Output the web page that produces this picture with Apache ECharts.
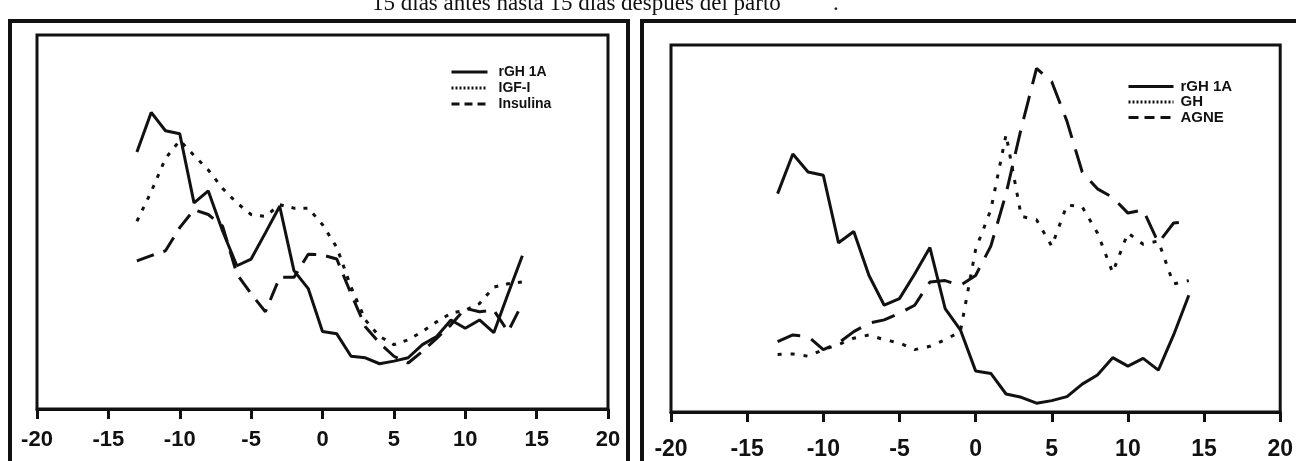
<!DOCTYPE html>
<html>
<head>
<meta charset="utf-8">
<script src="https://cdn.jsdelivr.net/npm/echarts@6/dist/echarts.min.js"></script>
<style>
  html, body { margin: 0; padding: 0; background: #fff; }
  #chart { width: 1296px; height: 461px; }
</style>
</head>
<body>
<div id="chart"></div>
<script>
// days around calving
const days = [-13, -12, -11, -10, -9, -8, -7, -6, -5, -4, -3, -2, -1, 0, 1, 2, 3, 4, 5, 6, 7, 8, 9, 10, 11, 12, 13, 14];
const xTicks = [-20, -15, -10, -5, 0, 5, 10, 15, 20];

// left panel (relative units)
const rghLeft = [68.7, 79.3, 74.4, 73.6, 55.1, 58.3, 47.6, 38.3, 40.1, 47.1, 54.2, 37.0, 32.2, 20.7, 20.1, 14.1, 13.7, 12.1, 12.8, 13.7, 17.2, 19.4, 23.8, 21.6, 23.8, 20.4, 30.8, 41.0];
const igfLeft = [50.2, 58.1, 67.0, 71.8, 67.8, 63.9, 59.0, 55.1, 52.0, 51.5, 54.6, 53.7, 53.7, 49.3, 43.2, 32.6, 23.8, 19.4, 17.2, 18.5, 20.7, 23.3, 25.6, 26.4, 28.2, 32.6, 33.5, 34.0];
const insLeft = [39.6, 41.0, 42.3, 48.5, 53.3, 52.0, 48.9, 36.1, 30.8, 26.0, 35.2, 35.2, 41.4, 41.2, 40.1, 30.8, 22.0, 17.6, 14.1, 12.3, 15.4, 18.9, 22.5, 26.9, 26.0, 26.4, 20.7, 28.2];

// right panel (relative units)
const rghRight = [59.5, 70.3, 65.4, 64.5, 46.1, 49.2, 37.2, 29.1, 30.9, 37.6, 44.8, 28.2, 22.4, 11.2, 10.5, 4.9, 4.0, 2.4, 3.1, 4.2, 7.6, 10.1, 14.8, 12.5, 14.6, 11.4, 21.0, 31.8];
const ghRight = [15.7, 15.8, 15.2, 17.0, 18.4, 20.1, 21.0, 19.7, 18.8, 17.0, 17.9, 19.7, 21.9, 44.3, 55.1, 75.6, 53.3, 52.4, 45.2, 56.4, 55.9, 48.8, 38.0, 48.8, 45.7, 46.6, 34.9, 35.8];
const agneRight = [19.2, 21.0, 20.6, 17.0, 18.8, 21.9, 24.2, 25.1, 26.9, 29.1, 35.4, 35.8, 34.5, 37.2, 45.2, 59.5, 77.4, 93.6, 90.0, 79.2, 65.4, 60.8, 58.5, 54.2, 55.1, 46.1, 51.5, 51.9];

const ink = '#111';
const sans = '"Liberation Sans", Arial, sans-serif';
const serif = '"Liberation Serif", "Times New Roman", serif';
const pairs = vals => days.map((d, i) => [d, vals[i]]);

function makeLine(name, vals, idx, dash) {
    return {
        name: name,
        type: 'line',
        xAxisIndex: idx,
        yAxisIndex: idx,
        data: pairs(vals),
        symbol: 'none',
        silent: true,
        lineStyle: { color: ink, width: 3, type: dash },
        itemStyle: { color: ink }
    };
}

function makeX(idx, margin, size) {
    return {
        type: 'value',
        gridIndex: idx,
        min: xTicks[0],
        max: xTicks[xTicks.length - 1],
        interval: xTicks[1] - xTicks[0],
        splitLine: { show: false },
        axisLine: { show: true, onZero: false, lineStyle: { color: ink, width: 3 } },
        axisTick: { show: true, length: 10, lineStyle: { color: ink, width: 3 } },
        axisLabel: { margin: margin, color: ink, fontFamily: sans, fontWeight: 'bold', fontSize: size }
    };
}

function makeY(idx) {
    return {
        type: 'value', gridIndex: idx, min: 0, max: 100,
        axisLine: { show: false }, axisTick: { show: false },
        axisLabel: { show: false }, splitLine: { show: false }
    };
}

// legend shows the line only, no marker
const legendBase = {
    orient: 'vertical',
    selectedMode: false,
    itemStyle: { opacity: 0 },
    lineStyle: { opacity: 1, width: 3 }
};

const chart = echarts.init(document.getElementById('chart'));
chart.setOption({
    animation: false,
    backgroundColor: '#fff',
    grid: [
        { left: 37, top: 35, width: 571, height: 374, show: true, borderColor: ink, borderWidth: 3 },
        { left: 671, top: 45, width: 610, height: 371, show: true, borderColor: ink, borderWidth: 3 }
    ],
    xAxis: [makeX(0, 20, 22), makeX(1, 26, 23)],
    yAxis: [makeY(0), makeY(1)],
    legend: [
        Object.assign({}, legendBase, {
            left: 445, top: 60,
            itemWidth: 36, itemHeight: 13, itemGap: 2,
            textStyle: { color: ink, fontFamily: sans, fontWeight: 'bold', fontSize: 14, lineHeight: 13, padding: [0, 0, 0, 6] },
            data: [
                { name: 'rGH 1A' },
                { name: 'IGF-I', lineStyle: { type: [2, 2] } },
                { name: 'Insulina', lineStyle: { type: [8, 5] } }
            ]
        }),
        Object.assign({}, legendBase, {
            left: 1122, top: 74,
            itemWidth: 45, itemHeight: 15, itemGap: 0.5,
            textStyle: { color: ink, fontFamily: sans, fontWeight: 'bold', fontSize: 15, lineHeight: 15, padding: [0, 0, 0, 2] },
            data: [
                { name: 'rGH 1A' },
                { name: 'GH', lineStyle: { type: [2, 2] } },
                { name: 'AGNE', lineStyle: { type: [10, 6] } }
            ]
        })
    ],
    graphic: [
        {
            type: 'text', x: 372, y: 4,
            style: { text: '15 días antes hasta 15 días después del parto', font: '23px ' + serif, fill: ink, verticalAlign: 'middle' }
        },
        {
            type: 'text', x: 833, y: 4,
            style: { text: '.', font: '23px ' + serif, fill: ink, verticalAlign: 'middle' }
        },
        { type: 'rect', shape: { x: 10, y: 21, width: 618, height: 520 }, style: { fill: 'none', stroke: ink, lineWidth: 4 } },
        { type: 'rect', shape: { x: 642, y: 21, width: 700, height: 520 }, style: { fill: 'none', stroke: ink, lineWidth: 4 } }
    ],
    series: [
        makeLine('rGH 1A', rghLeft, 0, 'solid'),
        makeLine('IGF-I', igfLeft, 0, [4, 8]),
        makeLine('Insulina', insLeft, 0, [18, 10]),
        makeLine('rGH 1A', rghRight, 1, 'solid'),
        makeLine('GH', ghRight, 1, [4, 9]),
        makeLine('AGNE', agneRight, 1, [24, 12])
    ]
});
window.addEventListener('resize', () => chart.resize());
</script>
</body>
</html>
